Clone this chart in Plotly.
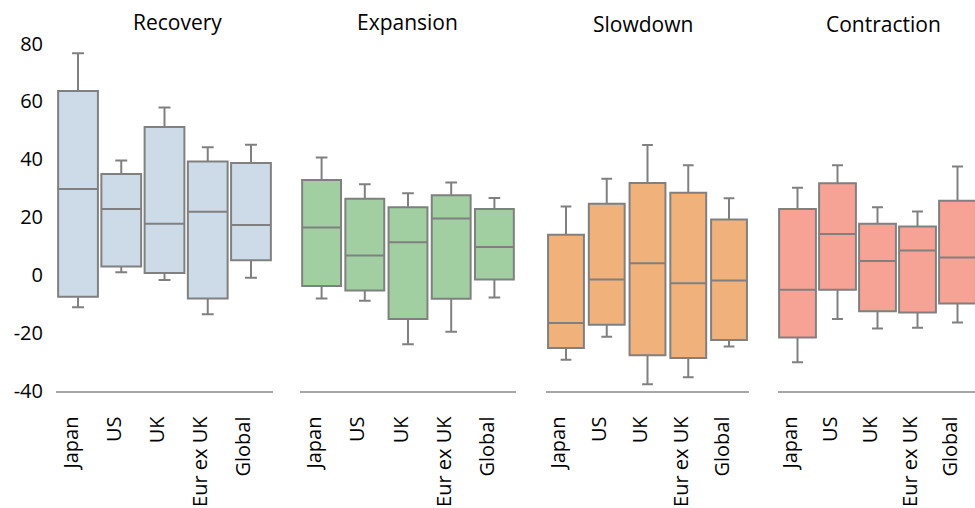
import plotly.graph_objects as go

categories = ["Japan", "US", "UK", "Eur ex UK", "Global"]
phases = ["Recovery", "Expansion", "Slowdown", "Contraction"]

# box statistics per phase (order: Japan, US, UK, Eur ex UK, Global)
recovery_low = [-11.2, 0.9, -1.8, -13.6, -1.0]
recovery_q1 = [-7.6, 2.9, 0.6, -8.2, 5.0]
recovery_med = [29.7, 22.8, 17.7, 21.8, 17.2]
recovery_q3 = [63.6, 34.9, 51.1, 39.2, 38.7]
recovery_high = [76.6, 39.5, 57.9, 44.1, 45.0]

expansion_low = [-8.2, -9.0, -24.0, -19.7, -7.8]
expansion_q1 = [-3.9, -5.4, -15.3, -8.3, -1.6]
expansion_med = [16.4, 6.7, 11.3, 19.5, 9.6]
expansion_q3 = [32.8, 26.3, 23.4, 27.5, 22.8]
expansion_high = [40.6, 31.3, 28.2, 31.9, 26.6]

slowdown_low = [-29.4, -21.4, -37.8, -35.4, -24.8]
slowdown_q1 = [-25.3, -17.3, -27.8, -28.8, -22.5]
slowdown_med = [-16.7, -1.6, 4.0, -2.9, -2.0]
slowdown_q3 = [13.9, 24.6, 31.8, 28.4, 19.1]
slowdown_high = [23.6, 33.2, 44.9, 37.9, 26.5]

contraction_low = [-30.2, -15.3, -18.6, -18.3, -16.5]
contraction_q1 = [-21.7, -5.2, -12.6, -13.0, -9.9]
contraction_med = [-5.2, 14.1, 4.8, 8.4, 6.0]
contraction_q3 = [22.8, 31.7, 17.7, 16.7, 25.6]
contraction_high = [30.1, 37.9, 23.4, 21.9, 37.5]

y_ticks = [-40, -20, 0, 20, 40, 60, 80]
y_tick_labels = ["-40", "-20", "0", "20", "40", "60", "80"]

stats = [
    (recovery_low, recovery_q1, recovery_med, recovery_q3, recovery_high),
    (expansion_low, expansion_q1, expansion_med, expansion_q3, expansion_high),
    (slowdown_low, slowdown_q1, slowdown_med, slowdown_q3, slowdown_high),
    (contraction_low, contraction_q1, contraction_med, contraction_q3, contraction_high),
]
fills = ["#cddbe9", "#a1cfa2", "#f0b27a", "#f6a395"]
box_w = [0.92, 0.9, 0.88, 0.92]

W, H = 975, 508
# panel pixel extents (left, right) and x-range end
panels = [(56.4, 272.6, 4.5), (300.0, 516.0, 4.5), (545.6, 749.4, 4.5), (777.5, 975.0, 4.4375)]
title_x = [177, 407, 643, 883]
title_y = [22, 22, 24, 24]
y_top_px, y_bot_px = 43.5, 390.5

font = "Open Sans"
line_gray = "#808080"

fig = go.Figure()
for i, (lo, q1, md, q3, hi) in enumerate(stats):
    ax = "x" if i == 0 else f"x{i+1}"
    fig.add_trace(go.Box(
        x=categories, lowerfence=lo, q1=q1, median=md, q3=q3, upperfence=hi,
        xaxis=ax, yaxis="y", fillcolor=fills[i],
        line=dict(color=line_gray, width=2), whiskerwidth=0.3,
        boxpoints=False, width=box_w[i], showlegend=False, hoverinfo="skip",
        name=phases[i],
    ))

layout = dict(
    width=W, height=H,
    margin=dict(l=0, r=0, t=0, b=0, pad=0, autoexpand=False),
    paper_bgcolor="white", plot_bgcolor="white",
    font=dict(family=font, size=20, color="black"),
    boxmode="overlay",
    showlegend=False,
    yaxis=dict(
        domain=[1 - y_bot_px / H, 1 - y_top_px / H],
        range=[-40, 80], tickvals=y_ticks, ticktext=y_tick_labels,
        showgrid=False, zeroline=False, showline=False, ticks="",
        anchor="free", position=43 / W, automargin=False,
        tickfont=dict(family=font, size=20, color="black"),
    ),
)
for i, (l, r, rend) in enumerate(panels):
    key = "xaxis" if i == 0 else f"xaxis{i+1}"
    layout[key] = dict(
        domain=[l / W, r / W], anchor="y", automargin=False,
        type="category", categoryorder="array", categoryarray=categories,
        range=[-0.5, rend],
        showline=True, linecolor="#a6a6a6", linewidth=2,
        showgrid=False, zeroline=False, ticks="",
        tickangle=-90, ticklabelstandoff=16, ticklabelshift=-7,
        tickfont=dict(family=font, size=20, color="black"),
    )
fig.update_layout(**layout)

for i, p in enumerate(phases):
    fig.add_annotation(
        text=p, xref="paper", yref="paper",
        x=title_x[i] / W, y=1 - title_y[i] / H,
        showarrow=False, xanchor="center", yanchor="middle",
        font=dict(family=font, size=21, color="black"),
    )

fig.write_html(
    "out.html",
    config={"displayModeBar": False},
    post_script="document.body.style.margin='0';document.body.style.overflow='hidden';",
)
